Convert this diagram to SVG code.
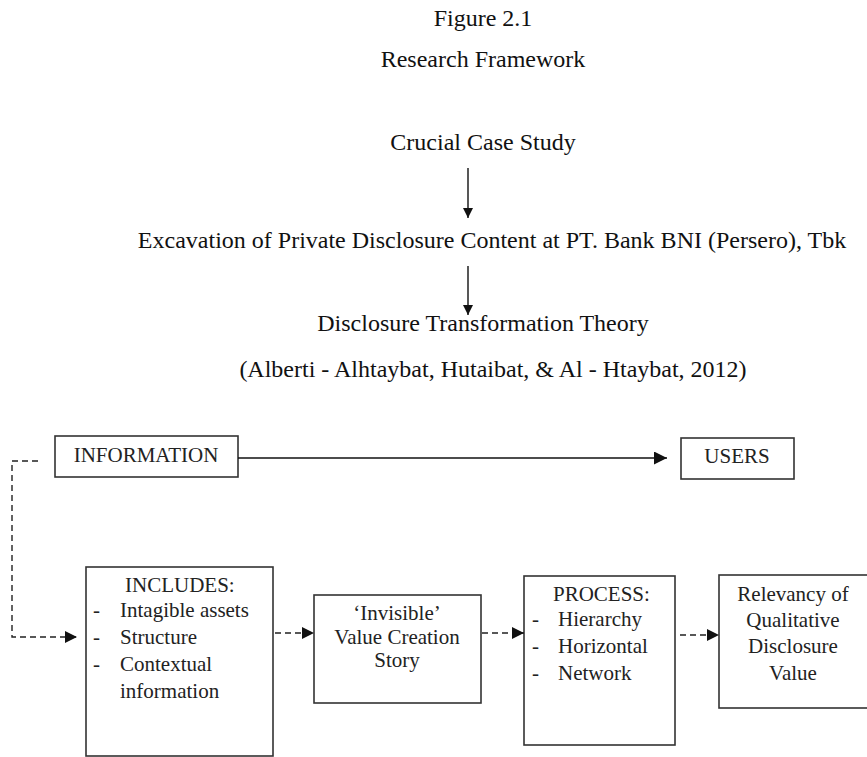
<svg xmlns="http://www.w3.org/2000/svg" width="867" height="757" viewBox="0 0 867 757">
<style>
.t{font-family:"Liberation Serif","Times New Roman",serif;font-size:24px;fill:#111}
.b{font-family:"Liberation Serif","Times New Roman",serif;font-size:21px;fill:#222}
.m{text-anchor:middle}
.box{fill:#fff;stroke:#333;stroke-width:1.6}
.ln{fill:none;stroke:#111;stroke-width:1.4}
.dash{fill:none;stroke:#222;stroke-width:1.4;stroke-dasharray:6 4}
</style>
<defs>
<marker id="ah" markerUnits="userSpaceOnUse" markerWidth="12" markerHeight="12" refX="10" refY="5" orient="auto"><path d="M0,0 L10,5 L0,10 z" fill="#111"/></marker>
<marker id="ahL" markerUnits="userSpaceOnUse" markerWidth="14" markerHeight="14" refX="13" refY="6.5" orient="auto"><path d="M0,0 L13,6.5 L0,13 z" fill="#111"/></marker>
<marker id="ahD" markerUnits="userSpaceOnUse" markerWidth="14" markerHeight="14" refX="12" refY="6" orient="auto"><path d="M0,0 L12,6 L0,12 z" fill="#111"/></marker>
</defs>
<rect width="867" height="757" fill="#fff"/>

<g id="title">
<text class="t m" x="483" y="26">Figure 2.1</text>
<text class="t m" x="483" y="67">Research Framework</text>
</g>
<g id="crucial"><text class="t m" x="483" y="150">Crucial Case Study</text></g>
<g id="excavation"><text class="t m" x="492" y="248">Excavation of Private Disclosure Content at PT. Bank BNI (Persero), Tbk</text></g>
<g id="theory">
<text class="t m" x="483" y="331">Disclosure Transformation Theory</text>
<text class="t m" x="493" y="377">(Alberti - Alhtaybat, Hutaibat, &amp; Al - Htaybat, 2012)</text>
</g>

<g id="information">
<rect class="box" x="55" y="436" width="183" height="41"/>
<text class="b m" x="146" y="462">INFORMATION</text>
</g>
<g id="users">
<rect class="box" x="681" y="438" width="113" height="41"/>
<text class="b m" x="737" y="463">USERS</text>
</g>
<g id="includes">
<rect class="box" x="86" y="567" width="187" height="189"/>
<text class="b" x="125" y="592">INCLUDES:</text>
<text class="b" x="93" y="617">-</text><text class="b" x="120" y="617">Intagible assets</text>
<text class="b" x="93" y="644">-</text><text class="b" x="120" y="644">Structure</text>
<text class="b" x="93" y="671">-</text><text class="b" x="120" y="671">Contextual</text>
<text class="b" x="120" y="698">information</text>
</g>
<g id="invisible">
<rect class="box" x="314" y="595" width="167" height="108"/>
<text class="b m" x="397" y="620">‘Invisible’</text>
<text class="b m" x="397" y="644">Value Creation</text>
<text class="b m" x="397" y="667">Story</text>
</g>
<g id="process">
<rect class="box" x="524" y="576" width="151" height="169"/>
<text class="b" x="553" y="601">PROCESS:</text>
<text class="b" x="532" y="626">-</text><text class="b" x="558" y="626">Hierarchy</text>
<text class="b" x="532" y="653">-</text><text class="b" x="558" y="653">Horizontal</text>
<text class="b" x="532" y="680">-</text><text class="b" x="558" y="680">Network</text>
</g>
<g id="relevancy">
<rect class="box" x="719" y="575" width="160" height="133"/>
<text class="b m" x="793" y="601">Relevancy of</text>
<text class="b m" x="793" y="627">Qualitative</text>
<text class="b m" x="793" y="653">Disclosure</text>
<text class="b m" x="793" y="680">Value</text>
</g>

<g id="connectors">
<line class="ln" x1="468" y1="168" x2="468" y2="218" marker-end="url(#ah)"/>
<line class="ln" x1="468" y1="266" x2="468" y2="315" marker-end="url(#ah)"/>
<line class="ln" x1="238" y1="458" x2="667" y2="458" marker-end="url(#ahL)"/>
<path class="dash" d="M38,461 H12 V637 H77" marker-end="url(#ahD)"/>
<line class="dash" x1="275" y1="633" x2="314" y2="633" marker-end="url(#ahD)"/>
<line class="dash" x1="482" y1="633" x2="524" y2="633" marker-end="url(#ahD)"/>
<line class="dash" x1="680" y1="635" x2="719" y2="635" marker-end="url(#ahD)"/>
</g>
</svg>
